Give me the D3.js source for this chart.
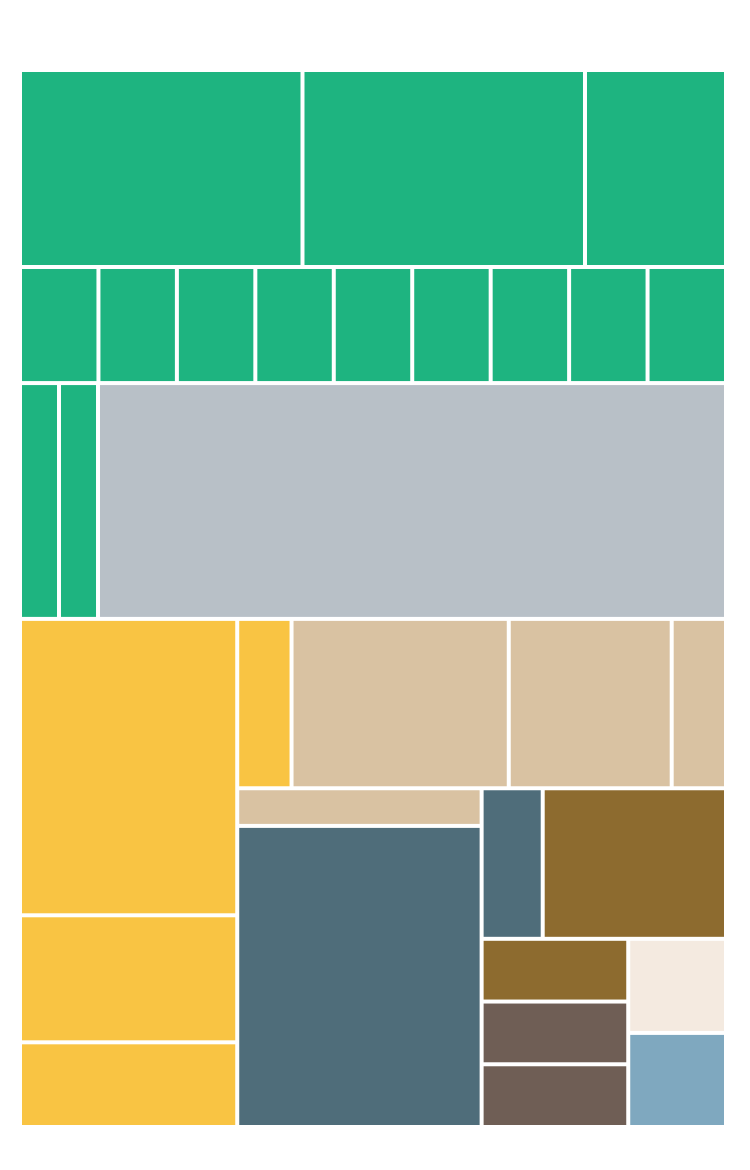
<!DOCTYPE html>
<html>
<head>
<meta charset="utf-8">
<script src="https://cdn.jsdelivr.net/npm/d3@7"></script>
<style>
  html, body { margin: 0; padding: 0; background: #ffffff; }
  svg { display: block; }
</style>
</head>
<body>
<svg id="chart" width="750" height="1170"></svg>
<script>
// Categories (group order as drawn) and their leaf values (in units)
const categories = ["Green", "Gray", "Yellow", "Tan", "Slate", "Brown", "Taupe", "Cream", "Blue"];
const greenValues  = [6.05, 6.05, 3.02, 0.99, 0.99, 0.99, 0.99, 0.99, 0.99, 0.99, 0.99, 0.99, 1, 1];
const grayValues   = [16.1];
const yellowValues = [7, 3, 2, 1];
const tanValues    = [4, 3, 1, 1];
const slateValues  = [8, 1];
const brownValues  = [3, 1];
const taupeValues  = [1, 1];
const creamValues  = [1];
const blueValues   = [1];
const seriesValues = [greenValues, grayValues, yellowValues, tanValues, slateValues,
                      brownValues, taupeValues, creamValues, blueValues];
const palette = ["#1eb480", "#b8c0c7", "#f9c443", "#d9c2a2", "#4f6d7a",
                 "#8d6b2f", "#6f5e55", "#f4eae0", "#7fa8bf"];

const margin = {left: 22, top: 72};
const W = 702, H = 1053;

const leaves = [];
categories.forEach((c, i) => {
  seriesValues[i].forEach((v, j) => leaves.push({category: c, name: c + "-" + (j + 1), value: v}));
});

const root = d3.hierarchy({name: "root", children: leaves}).sum(d => d.value || 0);

d3.treemap()
  .tile(d3.treemapSquarify)
  .size([W, H])
  .paddingInner(4)(root);

const color = d3.scaleOrdinal().domain(categories).range(palette);

const svg = d3.select("#chart");
const g = svg.append("g").attr("transform", `translate(${margin.left},${margin.top})`);

g.selectAll("rect")
  .data(root.leaves())
  .join("rect")
  .attr("x", d => d.x0)
  .attr("y", d => d.y0)
  .attr("width", d => Math.max(0, d.x1 - d.x0))
  .attr("height", d => Math.max(0, d.y1 - d.y0))
  .attr("fill", d => color(d.data.category));
</script>
</body>
</html>
